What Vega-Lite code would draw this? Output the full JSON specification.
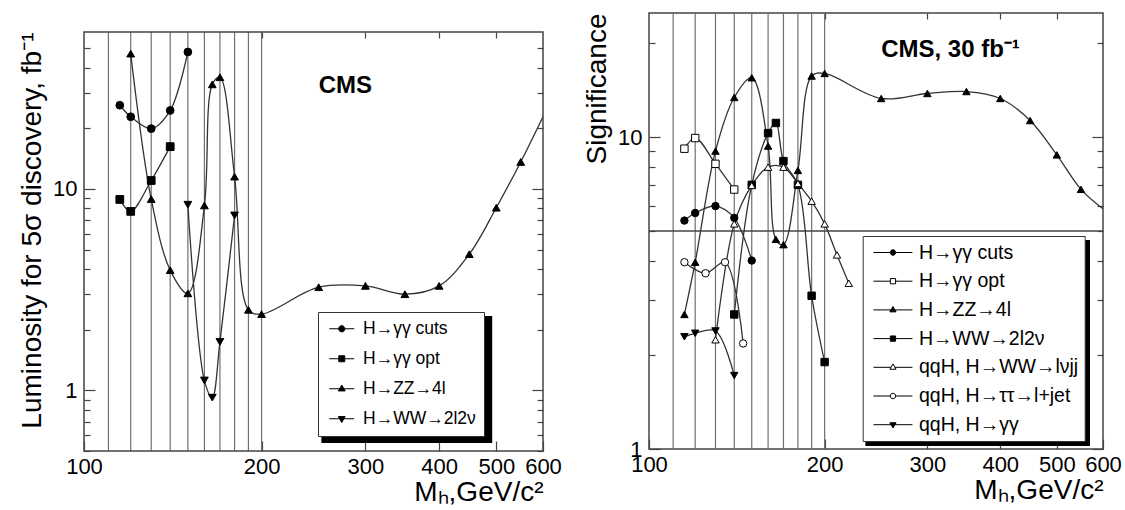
{
  "$schema": "https://vega.github.io/schema/vega-lite/v6.json",
  "padding": {"left": 18, "top": 11, "right": 0, "bottom": 0},
  "spacing": 20,
  "config": {
    "font": "Liberation Sans",
    "view": {"stroke": "#444", "strokeWidth": 1.5},
    "axis": {
      "labelFont": "Liberation Sans", "labelFontSize": 22, "labelColor": "black",
      "titleFont": "Liberation Sans", "titleFontSize": 28, "titleFontWeight": "normal", "titleColor": "black",
      "tickColor": "#444", "tickWidth": 1.2, "domain": false, "grid": false,
      "labelOverlap": false, "labelFlush": false, "labelBound": false
    },
    "legend": {"labelFont": "Liberation Sans", "labelColor": "black", "labelLimit": 0}
  },
  "datasets": {
    "grid": [{"m":110},{"m":120},{"m":130},{"m":140},{"m":150},{"m":160},{"m":170},{"m":180},{"m":190},{"m":200}],
    "lum": [
      {"series":"H→γγ cuts","m":115,"v":26.0},{"series":"H→γγ cuts","m":120,"v":22.8},{"series":"H→γγ cuts","m":130,"v":19.9},{"series":"H→γγ cuts","m":140,"v":24.5},{"series":"H→γγ cuts","m":150,"v":47.8},
      {"series":"H→γγ opt","m":115,"v":8.86},{"series":"H→γγ opt","m":120,"v":7.73},{"series":"H→γγ opt","m":130,"v":11.0},{"series":"H→γγ opt","m":140,"v":16.2},
      {"series":"H→ZZ→4l","m":120,"v":46.9},{"series":"H→ZZ→4l","m":130,"v":8.9},{"series":"H→ZZ→4l","m":140,"v":3.95},{"series":"H→ZZ→4l","m":150,"v":3.03},{"series":"H→ZZ→4l","m":160,"v":8.27},{"series":"H→ZZ→4l","m":165,"v":33.0},{"series":"H→ZZ→4l","m":170,"v":35.8},{"series":"H→ZZ→4l","m":180,"v":11.5},{"series":"H→ZZ→4l","m":190,"v":2.51},{"series":"H→ZZ→4l","m":200,"v":2.39},{"series":"H→ZZ→4l","m":250,"v":3.25},{"series":"H→ZZ→4l","m":300,"v":3.30},{"series":"H→ZZ→4l","m":350,"v":3.0},{"series":"H→ZZ→4l","m":400,"v":3.30},{"series":"H→ZZ→4l","m":450,"v":4.74},{"series":"H→ZZ→4l","m":500,"v":8.06},{"series":"H→ZZ→4l","m":550,"v":13.6},{"series":"H→ZZ→4l","m":600,"v":22.8},
      {"series":"H→WW→2l2ν","m":150,"v":8.34},{"series":"H→WW→2l2ν","m":160,"v":1.12},{"series":"H→WW→2l2ν","m":165,"v":0.92},{"series":"H→WW→2l2ν","m":170,"v":1.74},{"series":"H→WW→2l2ν","m":180,"v":7.38}
    ],
    "sig": [
      {"series":"H→γγ cuts","m":115,"v":5.40},{"series":"H→γγ cuts","m":120,"v":5.71},{"series":"H→γγ cuts","m":130,"v":6.01},{"series":"H→γγ cuts","m":140,"v":5.51},{"series":"H→γγ cuts","m":150,"v":4.02},
      {"series":"H→γγ opt","m":115,"v":9.18},{"series":"H→γγ opt","m":120,"v":9.93},{"series":"H→γγ opt","m":130,"v":8.21},{"series":"H→γγ opt","m":140,"v":6.79},
      {"series":"H→ZZ→4l","m":115,"v":2.70},{"series":"H→ZZ→4l","m":120,"v":3.97},{"series":"H→ZZ→4l","m":130,"v":9.02},{"series":"H→ZZ→4l","m":140,"v":13.4},{"series":"H→ZZ→4l","m":150,"v":15.5},{"series":"H→ZZ→4l","m":160,"v":9.36},{"series":"H→ZZ→4l","m":165,"v":4.70},{"series":"H→ZZ→4l","m":170,"v":4.52},{"series":"H→ZZ→4l","m":180,"v":7.82},{"series":"H→ZZ→4l","m":190,"v":15.7},{"series":"H→ZZ→4l","m":200,"v":16.0},{"series":"H→ZZ→4l","m":250,"v":13.3},{"series":"H→ZZ→4l","m":300,"v":13.8},{"series":"H→ZZ→4l","m":350,"v":14.0},{"series":"H→ZZ→4l","m":400,"v":13.3},{"series":"H→ZZ→4l","m":450,"v":11.3},{"series":"H→ZZ→4l","m":500,"v":8.77},{"series":"H→ZZ→4l","m":550,"v":6.80},{"series":"H→ZZ→4l","m":600,"v":5.89},
      {"series":"H→WW→2l2ν","m":140,"v":2.70},{"series":"H→WW→2l2ν","m":150,"v":7.03},{"series":"H→WW→2l2ν","m":160,"v":10.3},{"series":"H→WW→2l2ν","m":165,"v":11.1},{"series":"H→WW→2l2ν","m":170,"v":8.38},{"series":"H→WW→2l2ν","m":180,"v":7.03},{"series":"H→WW→2l2ν","m":190,"v":3.10},{"series":"H→WW→2l2ν","m":200,"v":1.90},
      {"series":"qqH, H→WW→lνjj","m":130,"v":2.24},{"series":"qqH, H→WW→lνjj","m":140,"v":5.27},{"series":"qqH, H→WW→lνjj","m":150,"v":7.0},{"series":"qqH, H→WW→lνjj","m":160,"v":8.01},{"series":"qqH, H→WW→lνjj","m":170,"v":8.01},{"series":"qqH, H→WW→lνjj","m":180,"v":7.1},{"series":"qqH, H→WW→lνjj","m":190,"v":6.23},{"series":"qqH, H→WW→lνjj","m":200,"v":5.27},{"series":"qqH, H→WW→lνjj","m":210,"v":4.19},{"series":"qqH, H→WW→lνjj","m":220,"v":3.40},
      {"series":"qqH, H→ττ→l+jet","m":115,"v":3.97},{"series":"qqH, H→ττ→l+jet","m":125,"v":3.66},{"series":"qqH, H→ττ→l+jet","m":135,"v":3.97},{"series":"qqH, H→ττ→l+jet","m":145,"v":2.18},
      {"series":"qqH, H→γγ","m":115,"v":2.29},{"series":"qqH, H→γγ","m":120,"v":2.35},{"series":"qqH, H→γγ","m":130,"v":2.39},{"series":"qqH, H→γγ","m":140,"v":1.72}
    ]
  },
  "hconcat": [
    {
      "width": 459, "height": 438,
      "view": {"stroke": null},
      "layer": [
        {
          "data": {"name": "grid"},
          "mark": {"type": "rule", "color": "#707070", "strokeWidth": 1.2},
          "encoding": {
            "x": {"field": "m", "type": "quantitative", "scale": {"type": "log", "domain": [100, 600], "nice": false}, "axis": null},
            "y": {"datum": 0.5, "type": "quantitative", "scale": {"type": "log", "domain": [0.5, 74.6], "nice": false}, "axis": null},
            "y2": {"datum": 60}
          }
        },
        {
          "data": {"values": [{}]},
          "mark": {"type": "rect", "filled": false, "color": "#444", "strokeWidth": 1.5},
          "encoding": {
            "x": {"datum": 100, "type": "quantitative", "scale": {"type": "log", "domain": [100, 600], "nice": false}, "axis": null},
            "x2": {"datum": 600},
            "y": {"datum": 0.5, "type": "quantitative", "scale": {"type": "log", "domain": [0.5, 74.6], "nice": false}, "axis": null},
            "y2": {"datum": 60}
          }
        },
        {
          "data": {"name": "lum"},
          "mark": {"type": "line", "interpolate": "catmull-rom", "color": "#333", "strokeWidth": 1.3, "clip": true},
          "encoding": {
            "x": {"field": "m", "type": "quantitative", "scale": {"type": "log", "domain": [100, 600], "nice": false},
              "axis": {"orient": "bottom", "values": [100,200,300,400,500,600], "format": "d", "tickSize": -10, "labelPadding": 15, "title": "Mₕ,GeV/c²", "titleAnchor": "end", "titlePadding": 1}},
            "y": {"field": "v", "type": "quantitative", "scale": {"type": "log", "domain": [0.5, 74.6], "nice": false},
              "axis": {"orient": "left", "values": [0.5,0.6,0.7,0.8,0.9,1,2,3,4,5,6,7,8,9,10,20,30,40,50], "format": "~g",
                "labelExpr": "datum.value == 1 || datum.value == 10 ? datum.label : ''",
                "tickSize": {"condition": {"test": "datum.value == 1 || datum.value == 10", "value": -11}, "value": -6},
                "labelPadding": 18, "title": "Luminosity for 5σ discovery, fb⁻¹", "titleAnchor": "end", "titleY": 19, "titlePadding": 6}},
            "detail": {"field": "series"}
          }
        },
        {
          "data": {"name": "lum"},
          "transform": [{"filter": "datum.m < 600"}],
          "mark": {"type": "point", "filled": true, "size": 60, "opacity": 1, "fill": "black", "stroke": "black", "strokeWidth": 1},
          "encoding": {
            "x": {"field": "m", "type": "quantitative", "scale": {"type": "log", "domain": [100, 600], "nice": false},
              "axis": {"orient": "top", "values": [200,300,400,500], "labels": false, "tickSize": -6, "offset": -19, "title": null}},
            "y": {"field": "v", "type": "quantitative", "scale": {"type": "log", "domain": [0.5, 74.6], "nice": false},
              "axis": {"orient": "right", "values": [0.5,0.6,0.7,0.8,0.9,1,2,3,4,5,6,7,8,9,10,20,30,40,50], "labels": false,
                "tickSize": {"condition": {"test": "datum.value == 1 || datum.value == 10", "value": -11}, "value": -6}, "title": null}},
            "shape": {"field": "series", "scale": {"domain": ["H→γγ cuts","H→γγ opt","H→ZZ→4l","H→WW→2l2ν"], "range": ["circle","square","triangle-up","triangle-down"]}, "legend": null}
          }
        },
        {
          "data": {"values": [{}]},
          "mark": {"type": "rect", "color": "black"},
          "encoding": {
            "x": {"datum": 252.6, "type": "quantitative", "scale": {"type": "log", "domain": [100, 600], "nice": false}, "axis": null},
            "x2": {"datum": 492.1},
            "y": {"datum": 2.339, "type": "quantitative", "scale": {"type": "log", "domain": [0.5, 74.6], "nice": false}, "axis": null},
            "y2": {"datum": 0.548}
          }
        },
        {
          "data": {"name": "lum"},
          "mark": {"type": "point", "filled": true, "opacity": 0, "fill": "black", "stroke": "black", "strokeWidth": 1},
          "encoding": {
            "x": {"field": "m", "type": "quantitative", "scale": {"type": "log", "domain": [100, 600], "nice": false}, "axis": null},
            "y": {"field": "v", "type": "quantitative", "scale": {"type": "log", "domain": [0.5, 74.6], "nice": false}, "axis": null},
            "shape": {"field": "series",
              "scale": {"domain": ["H→γγ cuts","H→γγ opt","H→ZZ→4l","H→WW→2l2ν"],
                "range": [
                  "M-2,0H-0.5M0.5,0H2M-0.5,0A0.5,0.5,0,1,0,0.5,0A0.5,0.5,0,1,0,-0.5,0Z",
                  "M-2,0H-0.48M0.48,0H2M-0.48,-0.48H0.48V0.48H-0.48Z",
                  "M-2,0H2M0,-0.6L0.55,0.35H-0.55Z",
                  "M-2,0H2M0,0.6L0.55,-0.35H-0.55Z"]},
              "legend": {"orient": "none", "legendX": 234, "legendY": 299, "title": null,
                "fillColor": "white", "strokeColor": "#333", "padding": 8, "labelFontSize": 17.5,
                "symbolSize": 156, "symbolOffset": 7, "labelOffset": 12.5, "rowPadding": 11,
                "symbolOpacity": 1, "symbolStrokeWidth": 1}}
          }
        },
        {
          "data": {"values": [{}]},
          "mark": {"type": "text", "text": "CMS", "fontSize": 24, "fontWeight": "bold", "align": "left", "baseline": "alphabetic", "color": "black"},
          "encoding": {
            "x": {"datum": 250, "type": "quantitative", "scale": {"type": "log", "domain": [100, 600], "nice": false}, "axis": null},
            "y": {"datum": 30, "type": "quantitative", "scale": {"type": "log", "domain": [0.5, 74.6], "nice": false}, "axis": null}
          }
        }
      ],
      "resolve": {"axis": {"x": "independent", "y": "independent"}, "scale": {"shape": "independent"}}
    },
    {
      "width": 454, "height": 436,
      "layer": [
        {
          "data": {"name": "grid"},
          "mark": {"type": "rule", "color": "#707070", "strokeWidth": 1.2},
          "encoding": {"x": {"field": "m", "type": "quantitative", "scale": {"type": "log", "domain": [100, 600], "nice": false}, "axis": null}}
        },
        {
          "data": {"values": [{}]},
          "mark": {"type": "rule", "color": "#444", "strokeWidth": 1.3},
          "encoding": {"y": {"datum": 5, "type": "quantitative", "scale": {"type": "log", "domain": [1, 25], "nice": false}, "axis": null}}
        },
        {
          "data": {"name": "sig"},
          "mark": {"type": "line", "interpolate": "catmull-rom", "color": "#333", "strokeWidth": 1.3, "clip": true},
          "encoding": {
            "x": {"field": "m", "type": "quantitative", "scale": {"type": "log", "domain": [100, 600], "nice": false},
              "axis": {"orient": "bottom", "values": [100,200,300,400,500,600], "format": "d", "tickSize": -10, "labelPadding": 15, "title": "Mₕ,GeV/c²", "titleAnchor": "end", "titlePadding": 1}},
            "y": {"field": "v", "type": "quantitative", "scale": {"type": "log", "domain": [1, 25], "nice": false},
              "axis": {"orient": "left", "values": [1,2,3,4,5,6,7,8,9,10,20], "format": "~g",
                "labelExpr": "datum.value == 1 || datum.value == 10 ? datum.label : ''",
                "tickSize": {"condition": {"test": "datum.value == 1 || datum.value == 10", "value": -11}, "value": -6},
                "labelPadding": 18, "title": "Significance", "titleAnchor": "end", "titlePadding": 6}},
            "detail": {"field": "series"}
          }
        },
        {
          "data": {"name": "sig"},
          "transform": [{"filter": "datum.m < 600"}],
          "mark": {"type": "point", "filled": true, "size": 55, "opacity": 1, "stroke": "black", "strokeWidth": 1},
          "encoding": {
            "x": {"field": "m", "type": "quantitative", "scale": {"type": "log", "domain": [100, 600], "nice": false},
              "axis": {"orient": "top", "values": [200,300,400,500], "labels": false, "tickSize": -6, "title": null}},
            "y": {"field": "v", "type": "quantitative", "scale": {"type": "log", "domain": [1, 25], "nice": false},
              "axis": {"orient": "right", "values": [1,2,3,4,5,6,7,8,9,10,20], "labels": false,
                "tickSize": {"condition": {"test": "datum.value == 1 || datum.value == 10", "value": -11}, "value": -6}, "title": null}},
            "shape": {"field": "series", "scale": {"domain": ["H→γγ cuts","H→γγ opt","H→ZZ→4l","H→WW→2l2ν","qqH, H→WW→lνjj","qqH, H→ττ→l+jet","qqH, H→γγ"], "range": ["circle","square","triangle-up","square","triangle-up","circle","triangle-down"]}, "legend": null},
            "fill": {"field": "series", "scale": {"domain": ["H→γγ cuts","H→γγ opt","H→ZZ→4l","H→WW→2l2ν","qqH, H→WW→lνjj","qqH, H→ττ→l+jet","qqH, H→γγ"], "range": ["black","white","black","black","white","white","black"]}, "legend": null}
          }
        },
        {
          "data": {"values": [{}]},
          "mark": {"type": "rect", "color": "black"},
          "encoding": {
            "x": {"datum": 234.9, "type": "quantitative", "scale": {"type": "log", "domain": [100, 600], "nice": false}, "axis": null},
            "x2": {"datum": 570},
            "y": {"datum": 4.676, "type": "quantitative", "scale": {"type": "log", "domain": [1, 25], "nice": false}, "axis": null},
            "y2": {"datum": 1.0224}
          }
        },
        {
          "data": {"name": "sig"},
          "mark": {"type": "point", "filled": true, "opacity": 0, "stroke": "black", "strokeWidth": 1},
          "encoding": {
            "x": {"field": "m", "type": "quantitative", "scale": {"type": "log", "domain": [100, 600], "nice": false}, "axis": null},
            "y": {"field": "v", "type": "quantitative", "scale": {"type": "log", "domain": [1, 25], "nice": false}, "axis": null},
            "fill": {"field": "series", "scale": {"domain": ["H→γγ cuts","H→γγ opt","H→ZZ→4l","H→WW→2l2ν","qqH, H→WW→lνjj","qqH, H→ττ→l+jet","qqH, H→γγ"], "range": ["black","white","black","black","white","white","black"]}, "legend": null},
            "shape": {"field": "series",
              "scale": {"domain": ["H→γγ cuts","H→γγ opt","H→ZZ→4l","H→WW→2l2ν","qqH, H→WW→lνjj","qqH, H→ττ→l+jet","qqH, H→γγ"],
                "range": [
                  "M-2,0H-0.28M0.28,0H2M-0.28,0A0.28,0.28,0,1,0,0.28,0A0.28,0.28,0,1,0,-0.28,0Z",
                  "M-2,0H-0.27M0.27,0H2M-0.27,-0.27H0.27V0.27H-0.27Z",
                  "M-2,0H-0.2M0.2,0H2M0,-0.34L0.32,0.2H-0.32Z",
                  "M-2,0H-0.27M0.27,0H2M-0.27,-0.27H0.27V0.27H-0.27Z",
                  "M-2,0H-0.2M0.2,0H2M0,-0.34L0.32,0.2H-0.32Z",
                  "M-2,0H-0.28M0.28,0H2M-0.28,0A0.28,0.28,0,1,0,0.28,0A0.28,0.28,0,1,0,-0.28,0Z",
                  "M-2,0H-0.2M0.2,0H2M0,0.34L0.32,-0.2H-0.32Z"]},
              "legend": {"orient": "none", "legendX": 213.7, "legendY": 223, "title": null,
                "fillColor": "white", "strokeColor": "#333", "padding": 6, "labelFontSize": 19.5,
                "symbolSize": 380, "symbolOffset": 13.75, "labelOffset": 15.5, "rowPadding": 8.7,
                "symbolOpacity": 1, "symbolStrokeWidth": 1}}
          }
        },
        {
          "data": {"values": [{}]},
          "mark": {"type": "text", "text": "CMS, 30 fb⁻¹", "fontSize": 24, "fontWeight": "bold", "align": "left", "baseline": "alphabetic", "color": "black"},
          "encoding": {
            "x": {"datum": 250, "type": "quantitative", "scale": {"type": "log", "domain": [100, 600], "nice": false}, "axis": null},
            "y": {"datum": 18, "type": "quantitative", "scale": {"type": "log", "domain": [1, 25], "nice": false}, "axis": null}
          }
        }
      ],
      "resolve": {"axis": {"x": "independent", "y": "independent"}, "scale": {"shape": "independent", "fill": "independent"}}
    }
  ]
}
